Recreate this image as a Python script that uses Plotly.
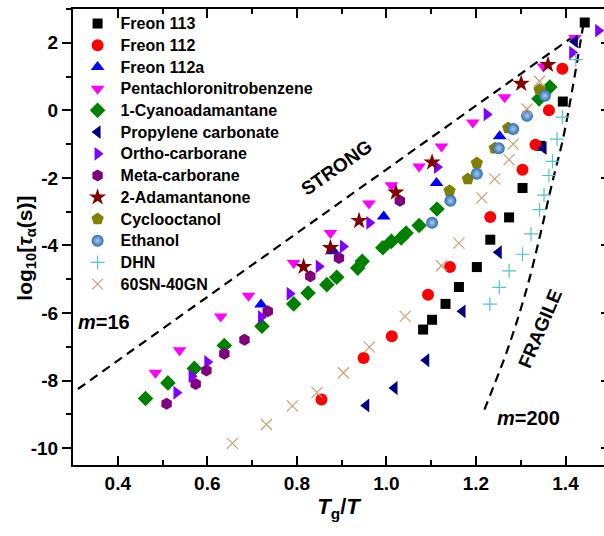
import plotly.graph_objects as go

# ---------------- data ----------------
names = ["Freon 113", "Freon 112", "Freon 112a", "Pentachloronitrobenzene",
         "1-Cyanoadamantane", "Propylene carbonate", "Ortho-carborane",
         "Meta-carborane", "2-Adamantanone", "Cyclooctanol", "Ethanol",
         "DHN", "60SN-40GN"]

x_f113 = [1.082, 1.102, 1.132, 1.162, 1.202, 1.232, 1.274, 1.304, 1.344, 1.394, 1.443]
y_f113 = [-6.49, -6.20, -5.73, -5.23, -4.64, -3.83, -3.17, -2.30, -1.05, 0.26, 2.60]

x_f112 = [0.855, 0.949, 1.012, 1.093, 1.142, 1.232, 1.304, 1.333, 1.363, 1.393]
y_f112 = [-8.56, -7.33, -6.69, -5.46, -4.64, -3.16, -1.76, -1.02, 0.00, 1.23]

x_f112a = [0.720, 0.882, 0.994, 1.112, 1.253]
y_f112a = [-5.75, -4.17, -3.14, -2.15, -0.77]

x_pcnb = [0.484, 0.538, 0.630, 0.692, 0.793, 0.875, 0.961, 1.011, 1.073, 1.123, 1.193, 1.264, 1.351, 1.421]
y_pcnb = [-7.77, -7.10, -6.10, -5.49, -4.52, -3.63, -2.76, -2.22, -1.66, -1.07, -0.36, 0.39, 1.30, 2.14]

x_cyano = [0.462, 0.512, 0.571, 0.638, 0.722, 0.793, 0.825, 0.867, 0.889, 0.936, 0.946, 0.992,
           1.011, 1.033, 1.044, 1.073, 1.113, 1.341, 1.365]
y_cyano = [-8.53, -8.07, -7.64, -6.96, -6.39, -5.73, -5.41, -5.16, -4.94, -4.67, -4.47, -4.07,
           -3.88, -3.78, -3.63, -3.41, -2.92, 0.34, 0.69]

x_pc = [0.955, 1.018, 1.089, 1.170, 1.251, 1.351, 1.421]
y_pc = [-8.74, -8.22, -7.40, -5.95, -4.20, -1.12, 2.04]

x_ortho = [0.531, 0.565, 0.600, 0.720, 0.784, 0.849, 0.903, 0.962, 1.113, 1.224, 1.415, 1.473]
y_ortho = [-8.36, -7.87, -7.45, -6.12, -5.43, -4.62, -4.03, -3.33, -1.68, -0.12, 1.71, 2.36]

x_meta = [0.509, 0.574, 0.598, 0.638, 0.683, 0.735, 0.830, 0.894, 1.030]
y_meta = [-8.69, -8.10, -7.70, -7.21, -6.79, -5.95, -4.91, -4.37, -2.68]

x_adam = [0.815, 0.875, 0.939, 1.021, 1.102, 1.301, 1.361]
y_adam = [-4.63, -4.07, -3.27, -2.43, -1.54, 0.79, 1.35]

x_cyclo = [1.141, 1.182, 1.202, 1.242, 1.272, 1.342]
y_cyclo = [-2.38, -2.03, -1.56, -1.12, -0.52, 0.61]

x_eth = [1.102, 1.143, 1.202, 1.251, 1.283, 1.314, 1.354]
y_eth = [-3.33, -2.68, -1.88, -1.12, -0.55, -0.16, 0.43]

x_dhn = [1.231, 1.252, 1.274, 1.304, 1.323, 1.342, 1.352, 1.363, 1.371, 1.381, 1.393, 1.423]
y_dhn = [-5.74, -5.24, -4.75, -4.26, -3.66, -2.94, -2.51, -1.93, -1.51, -0.85, -0.20, 1.50]

x_sn = [0.656, 0.732, 0.790, 0.845, 0.904, 0.962, 1.042, 1.123, 1.162, 1.213, 1.242, 1.274, 1.283, 1.314, 1.342]
y_sn = [-9.86, -9.30, -8.75, -8.35, -7.77, -7.01, -6.10, -4.60, -3.93, -2.59, -2.03, -1.46, -1.00, 0.04, 0.86]

# guide lines (strong m=16 and fragile m=200)
x_strong = [0.311, 1.425]
y_strong = [-8.25, 2.26]
x_fragile = [1.440, 1.415, 1.394, 1.372, 1.345, 1.320, 1.295, 1.268, 1.243, 1.219]
y_fragile = [2.55, 0.60, -0.87, -2.05, -3.60, -4.96, -6.10, -7.18, -8.05, -8.86]

# tick labels
y_tickvals = [-10, -8, -6, -4, -2, 0, 2]
y_ticktext = ["-10", "-8", "-6", "-4", "-2", "0", "2"]
x_tickvals = [0.4, 0.6, 0.8, 1.0, 1.2, 1.4]
x_ticktext = ["0.4", "0.6", "0.8", "1.0", "1.2", "1.4"]

xs = [x_f113, x_f112, x_f112a, x_pcnb, x_cyano, x_pc, x_ortho, x_meta, x_adam, x_cyclo, x_eth, x_dhn, x_sn]
ys = [y_f113, y_f112, y_f112a, y_pcnb, y_cyano, y_pc, y_ortho, y_meta, y_adam, y_cyclo, y_eth, y_dhn, y_sn]

symbols = ["square", "circle", "triangle-up", "triangle-down", "diamond", "triangle-left",
           "triangle-right", "hexagon", "star", "pentagon", "circle", "cross-thin-open", "x-thin-open"]
colors = ["#000000", "#ff0000", "#0000ff", "#ff00ff", "#008000", "#000080",
          "#8000ff", "#800080", "#800000", "#808000", "#2d6cb0", "#55c4c4", "#c9a077"]
sizes = [10, 12, 12, 12, 12, 12, 12, 12, 13, 13, 12, 10, 11]

FONT = "Liberation Sans, Arial, sans-serif"

fig = go.Figure()

fig.add_trace(go.Scatter(x=x_strong, y=y_strong, mode="lines", showlegend=False,
                         line=dict(color="black", width=2.2, dash="9px,6px"), hoverinfo="skip"))
fig.add_trace(go.Scatter(x=x_fragile, y=y_fragile, mode="lines", showlegend=False,
                         line=dict(color="black", width=2.2, dash="9px,6px", shape="spline"),
                         hoverinfo="skip"))

for i, nm in enumerate(names):
    sym = symbols[i]
    col = colors[i]
    if sym.endswith("-open"):
        mk = dict(symbol=sym, size=sizes[i], color=col, line=dict(color=col, width=1.2))
    elif nm == "Ethanol":
        mk = dict(symbol=sym, size=sizes[i], color=col,
                  gradient=dict(type="radial", color="#a9cdf0"), line=dict(width=0))
    else:
        mk = dict(symbol=sym, size=sizes[i], color=col, line=dict(width=0))
    label = '<b><span style="font-size:16px">' + nm + '</span></b>'
    fig.add_trace(go.Scatter(x=xs[i], y=ys[i], mode="markers", name=label, marker=mk))

# invisible trace for the right-hand tick stubs
fig.add_trace(go.Scatter(x=[None], y=[None], yaxis="y2", showlegend=False, hoverinfo="skip"))

fig.add_annotation(x=0.889, y=-1.70, text="<b>STRONG</b>", textangle=-35, showarrow=False,
                   font=dict(family=FONT, size=19, color="black"))
fig.add_annotation(x=1.343, y=-6.45, text="<b>FRAGILE</b>", textangle=-67, showarrow=False,
                   font=dict(family=FONT, size=19, color="black"))
fig.add_annotation(x=0.370, y=-6.28, text="<b><i>m</i>=16</b>", showarrow=False,
                   font=dict(family=FONT, size=20, color="black"))
fig.add_annotation(x=1.318, y=-9.11, text="<b><i>m</i>=200</b>", showarrow=False,
                   font=dict(family=FONT, size=20, color="black"))
# y-axis title
fig.add_annotation(xref="paper", yref="paper", x=-0.088, y=0.475, xanchor="center", yanchor="middle",
                   text="<b>log<sub>10</sub>[<i>τ</i><sub>α</sub>(s)]</b>", textangle=-90,
                   showarrow=False, font=dict(family=FONT, size=21, color="black"))

fig.update_layout(
    width=604, height=536,
    margin=dict(l=73, r=0, t=9, b=71),
    plot_bgcolor="white", paper_bgcolor="white",
    font=dict(family=FONT, color="black"),
    showlegend=True,
    legend=dict(x=0.003, y=1.003, xanchor="left", yanchor="top",
                bgcolor="rgba(0,0,0,0)", borderwidth=0, maxheight=520,
                font=dict(family=FONT, size=14.4, color="black"),
                tracegroupgap=0, itemwidth=36),
    xaxis=dict(range=[0.3, 1.486], tickvals=x_tickvals,
               ticktext=["<b>" + t + "</b>" for t in x_ticktext],
               ticks="inside", ticklen=9, tickwidth=2, tickcolor="black",
               minor=dict(dtick=0.1, tick0=0.3, ticks="inside", ticklen=5, tickwidth=2, tickcolor="black"),
               showline=True, linewidth=2, linecolor="black", mirror="ticks",
               showgrid=False, zeroline=False,
               tickfont=dict(family=FONT, size=19, color="black"),
               title=dict(text="<b><i>T</i><sub>g</sub>/<i>T</i></b>", standoff=6,
                          font=dict(family=FONT, size=22, color="black"))),
    yaxis=dict(range=[-10.5, 3.0], tickvals=y_tickvals,
               ticktext=["<b>" + t + "</b>" for t in y_ticktext],
               ticks="outside", ticklen=9, tickwidth=2, tickcolor="black",
               minor=dict(dtick=1, tick0=0, ticks="outside", ticklen=5, tickwidth=2, tickcolor="black"),
               showline=True, linewidth=2, linecolor="black", mirror=False,
               showgrid=False, zeroline=False,
               tickfont=dict(family=FONT, size=19, color="black")),
    yaxis2=dict(range=[-10.5, 3.0], overlaying="y", side="right", tick0=0, dtick=2,
                ticks="inside", ticklen=3, tickwidth=2, tickcolor="black",
                showticklabels=False, showline=False, showgrid=False, zeroline=False),
)

fig.write_html("out.html")
